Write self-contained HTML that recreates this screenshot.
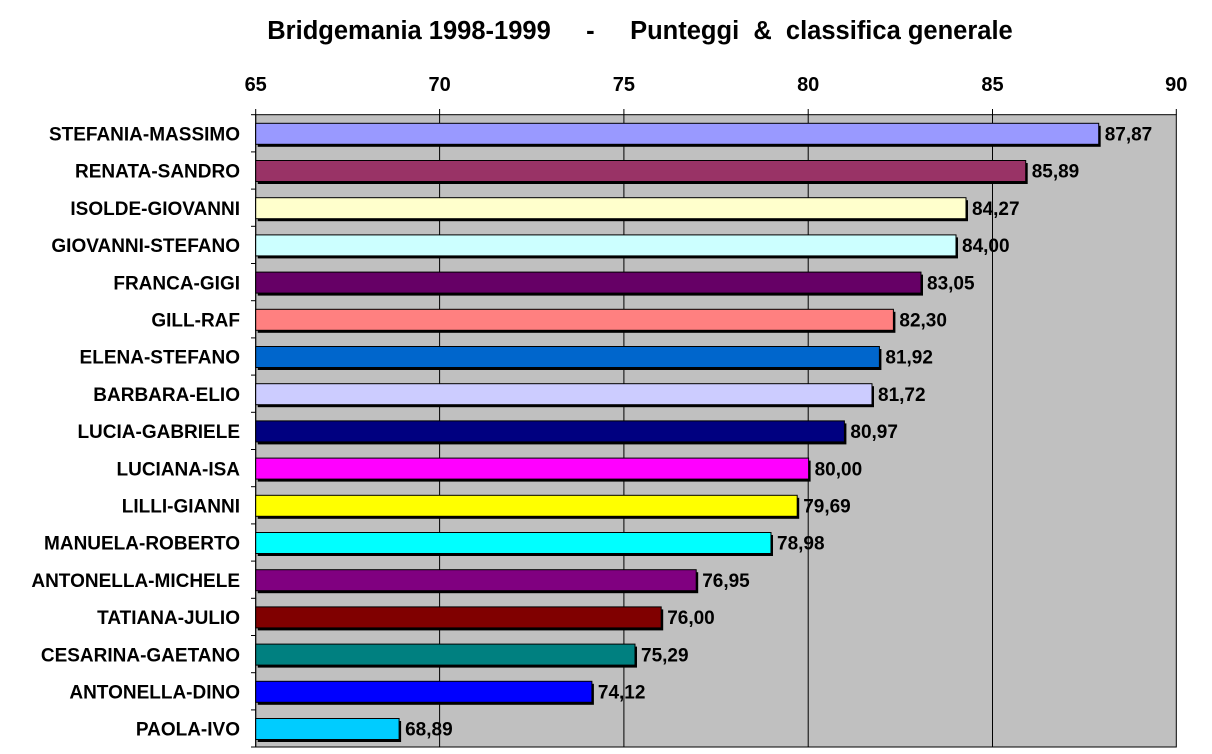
<!DOCTYPE html>
<html><head><meta charset="utf-8"><style>body{margin:0;background:#fff}svg{display:block}</style></head><body>
<svg width="1212" height="754" xmlns="http://www.w3.org/2000/svg" font-family="Liberation Sans, Arial, sans-serif" font-weight="bold">
<text x="640" y="39" font-size="25.5" text-anchor="middle" xml:space="preserve">Bridgemania 1998-1999     -     Punteggi  &amp;  classifica generale</text>
<rect x="255.7" y="114.7" width="920.6" height="632.3" fill="#c0c0c0" stroke="#000" stroke-width="1"/>
<g stroke="#000" stroke-width="1">
<line x1="439.6" y1="109" x2="439.6" y2="747"/>
<line x1="623.9" y1="109" x2="623.9" y2="747"/>
<line x1="808.2" y1="109" x2="808.2" y2="747"/>
<line x1="992.5" y1="109" x2="992.5" y2="747"/>
<line x1="255.7" y1="109" x2="255.7" y2="747"/>
<line x1="1176.3" y1="109" x2="1176.3" y2="114.7"/>
<line x1="251" y1="114.7" x2="255.7" y2="114.7"/><line x1="251" y1="151.9" x2="255.7" y2="151.9"/><line x1="251" y1="189.1" x2="255.7" y2="189.1"/><line x1="251" y1="226.3" x2="255.7" y2="226.3"/><line x1="251" y1="263.5" x2="255.7" y2="263.5"/><line x1="251" y1="300.7" x2="255.7" y2="300.7"/><line x1="251" y1="337.9" x2="255.7" y2="337.9"/><line x1="251" y1="375.1" x2="255.7" y2="375.1"/><line x1="251" y1="412.3" x2="255.7" y2="412.3"/><line x1="251" y1="449.5" x2="255.7" y2="449.5"/><line x1="251" y1="486.7" x2="255.7" y2="486.7"/><line x1="251" y1="523.9" x2="255.7" y2="523.9"/><line x1="251" y1="561.1" x2="255.7" y2="561.1"/><line x1="251" y1="598.3" x2="255.7" y2="598.3"/><line x1="251" y1="635.5" x2="255.7" y2="635.5"/><line x1="251" y1="672.7" x2="255.7" y2="672.7"/><line x1="251" y1="709.9" x2="255.7" y2="709.9"/><line x1="251" y1="747" x2="255.7" y2="747"/>
</g>
<g font-size="20" text-anchor="middle">
<text x="255.7" y="91">65</text><text x="439.6" y="91">70</text><text x="623.9" y="91">75</text><text x="808.2" y="91">80</text><text x="992.5" y="91">85</text><text x="1176.3" y="91">90</text>
</g>
<g fill="#000">
<rect x="257.7" y="125.8" width="843.0" height="21"/>
<rect x="257.7" y="163.0" width="770.0" height="21"/>
<rect x="257.7" y="200.2" width="710.3" height="21"/>
<rect x="257.7" y="237.4" width="700.3" height="21"/>
<rect x="257.7" y="274.6" width="665.3" height="21"/>
<rect x="257.7" y="311.8" width="637.7" height="21"/>
<rect x="257.7" y="349.0" width="623.7" height="21"/>
<rect x="257.7" y="386.2" width="616.3" height="21"/>
<rect x="257.7" y="423.4" width="588.7" height="21"/>
<rect x="257.7" y="460.6" width="552.9" height="21"/>
<rect x="257.7" y="497.8" width="541.5" height="21"/>
<rect x="257.7" y="535.0" width="515.3" height="21"/>
<rect x="257.7" y="572.2" width="440.5" height="21"/>
<rect x="257.7" y="609.4" width="405.5" height="21"/>
<rect x="257.7" y="646.6" width="379.3" height="21"/>
<rect x="257.7" y="683.8" width="336.2" height="21"/>
<rect x="257.7" y="721.0" width="143.4" height="21"/>
</g>
<g stroke="#000" stroke-width="1">
<rect x="255.7" y="123.3" width="843.0" height="21" fill="#9999ff"/>
<rect x="255.7" y="160.5" width="770.0" height="21" fill="#993366"/>
<rect x="255.7" y="197.7" width="710.3" height="21" fill="#ffffcc"/>
<rect x="255.7" y="234.9" width="700.3" height="21" fill="#ccffff"/>
<rect x="255.7" y="272.1" width="665.3" height="21" fill="#660066"/>
<rect x="255.7" y="309.3" width="637.7" height="21" fill="#ff8080"/>
<rect x="255.7" y="346.5" width="623.7" height="21" fill="#0066cc"/>
<rect x="255.7" y="383.7" width="616.3" height="21" fill="#ccccff"/>
<rect x="255.7" y="420.9" width="588.7" height="21" fill="#000080"/>
<rect x="255.7" y="458.1" width="552.9" height="21" fill="#ff00ff"/>
<rect x="255.7" y="495.3" width="541.5" height="21" fill="#ffff00"/>
<rect x="255.7" y="532.5" width="515.3" height="21" fill="#00ffff"/>
<rect x="255.7" y="569.7" width="440.5" height="21" fill="#800080"/>
<rect x="255.7" y="606.9" width="405.5" height="21" fill="#800000"/>
<rect x="255.7" y="644.1" width="379.3" height="21" fill="#008080"/>
<rect x="255.7" y="681.3" width="336.2" height="21" fill="#0000ff"/>
<rect x="255.7" y="718.5" width="143.4" height="21" fill="#00ccff"/>
</g>
<g font-size="19" text-anchor="end">
<text x="240" y="140.5">STEFANIA-MASSIMO</text>
<text x="240" y="177.7">RENATA-SANDRO</text>
<text x="240" y="214.9">ISOLDE-GIOVANNI</text>
<text x="240" y="252.1">GIOVANNI-STEFANO</text>
<text x="240" y="289.3">FRANCA-GIGI</text>
<text x="240" y="326.5">GILL-RAF</text>
<text x="240" y="363.7">ELENA-STEFANO</text>
<text x="240" y="400.9">BARBARA-ELIO</text>
<text x="240" y="438.1">LUCIA-GABRIELE</text>
<text x="240" y="475.3">LUCIANA-ISA</text>
<text x="240" y="512.5">LILLI-GIANNI</text>
<text x="240" y="549.7">MANUELA-ROBERTO</text>
<text x="240" y="586.9">ANTONELLA-MICHELE</text>
<text x="240" y="624.1">TATIANA-JULIO</text>
<text x="240" y="661.3">CESARINA-GAETANO</text>
<text x="240" y="698.5">ANTONELLA-DINO</text>
<text x="240" y="735.7">PAOLA-IVO</text>
</g>
<g font-size="19">
<text x="1104.7" y="140.5">87,87</text>
<text x="1031.7" y="177.7">85,89</text>
<text x="972.0" y="214.9">84,27</text>
<text x="962.0" y="252.1">84,00</text>
<text x="927.0" y="289.3">83,05</text>
<text x="899.4" y="326.5">82,30</text>
<text x="885.4" y="363.7">81,92</text>
<text x="878.0" y="400.9">81,72</text>
<text x="850.4" y="438.1">80,97</text>
<text x="814.6" y="475.3">80,00</text>
<text x="803.2" y="512.5">79,69</text>
<text x="777.0" y="549.7">78,98</text>
<text x="702.2" y="586.9">76,95</text>
<text x="667.2" y="624.1">76,00</text>
<text x="641.0" y="661.3">75,29</text>
<text x="597.9" y="698.5">74,12</text>
<text x="405.1" y="735.7">68,89</text>
</g>
</svg>
</body></html>
